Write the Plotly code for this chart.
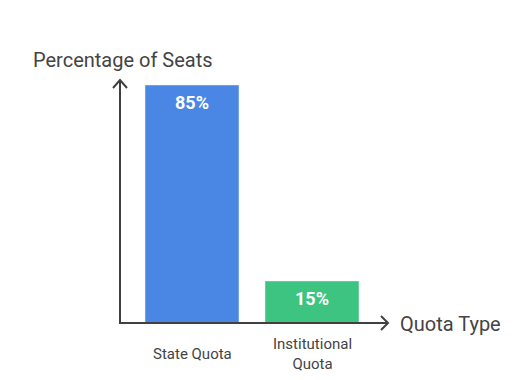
import plotly.graph_objects as go

categories = ["State Quota", "Institutional Quota"]
tick_labels = ["State Quota", "Institutional<br>Quota"]
values = [85, 15]
value_labels = ["<b>85%</b>", "<b>15%</b>"]
colors = ["#4A86E4", "#3CC480"]

OFF = 8  # page body margin
W, H = 528 - OFF, 380 - OFF
L, R, T, B = 120 - OFF, 388 - OFF, 80 - OFF, 323 - OFF  # plot area pixel bounds
pw, ph = R - L, B - T

def px(x):
    return (x - OFF - L) / pw

def py(y):
    return (B - (y - OFF)) / ph

fig = go.Figure()
fig.add_trace(go.Bar(
    x=categories, y=values, marker_color=colors, width=0.783,
    hoverinfo="skip",
))

annotations = []
for c, v, t in zip(categories, values, value_labels):
    annotations.append(dict(x=c, y=v, xref="x", yref="y", text=t, showarrow=False,
                            yanchor="middle", yshift=-17,
                            font=dict(family="Roboto", size=18, color="white")))
for c, t in zip(categories, tick_labels):
    annotations.append(dict(x=c, y=py(354), xref="paper" if False else "x", yref="paper", text=t, showarrow=False,
                            yanchor="middle", xanchor="center",
                            font=dict(family="Roboto", size=15, color="#444444")))
annotations.append(dict(x=px(31), y=py(60), xref="paper", yref="paper", text="Percentage of Seats",
                        showarrow=False, xanchor="left", yanchor="middle",
                        font=dict(family="Roboto", size=20, color="#444444")))
annotations.append(dict(x=px(398), y=py(324), xref="paper", yref="paper", text="Quota Type",
                        showarrow=False, xanchor="left", yanchor="middle",
                        font=dict(family="Roboto", size=20, color="#444444")))

lc = "#404040"
lw = 2
shapes = [
    dict(type="line", xref="paper", yref="paper", x0=px(120), y0=py(323), x1=px(120), y1=py(80), line=dict(color=lc, width=lw)),
    dict(type="line", xref="paper", yref="paper", x0=px(119), y0=py(323), x1=px(388), y1=py(323), line=dict(color=lc, width=lw)),
    dict(type="path", xref="paper", yref="paper",
         path=f"M {px(113)} {py(88)} L {px(120)} {py(80)} L {px(127)} {py(88)}", line=dict(color=lc, width=lw)),
    dict(type="path", xref="paper", yref="paper",
         path=f"M {px(381)} {py(316)} L {px(388)} {py(323)} L {px(381)} {py(330)}", line=dict(color=lc, width=lw)),
]

fig.update_layout(
    width=W, height=H,
    margin=dict(l=L, r=W - R, t=T, b=H - B, pad=0),
    paper_bgcolor="white", plot_bgcolor="white",
    showlegend=False,
    xaxis=dict(range=[-0.6, -0.6 + pw / 120], showticklabels=False, showgrid=False, zeroline=False, showline=False, fixedrange=True),
    yaxis=dict(range=[0, ph / 2.8], showticklabels=False, showgrid=False, zeroline=False, showline=False, fixedrange=True),
    annotations=annotations, shapes=shapes,
    font=dict(family="Roboto"),
)
fig.write_html("out.html")
